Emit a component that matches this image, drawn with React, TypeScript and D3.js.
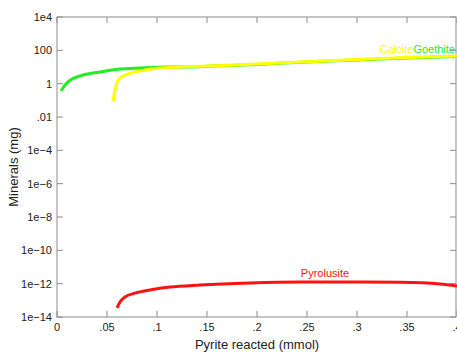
import React from "react";
import * as d3 from "d3";

// pyrite reacted (mmol) vs mineral mass (mg)
const goethiteX = [0.004, 0.008, 0.013, 0.023, 0.043, 0.063, 0.083, 0.103, 0.123, 0.15, 0.2, 0.25, 0.3, 0.35, 0.4];
const goethiteY = [0.36, 0.83, 1.6, 2.9, 5, 7.5, 8.7, 9.8, 10, 11, 14.3, 20, 26.6, 35, 43];

const calciteX = [0.056, 0.058, 0.061, 0.068, 0.083, 0.103, 0.123, 0.15, 0.2, 0.25, 0.3, 0.35, 0.4];
const calciteY = [0.09, 0.41, 1.6, 3.3, 5.7, 8.6, 10, 11.5, 15, 21, 28, 37, 45];

const pyrolusiteX = [0.06, 0.063, 0.068, 0.078, 0.093, 0.113, 0.143, 0.193, 0.243, 0.293, 0.343, 0.383, 0.4];
const pyrolusiteY = [3.5e-14, 8e-14, 1.6e-13, 2.7e-13, 4.2e-13, 6.3e-13, 8.3e-13, 1.1e-12, 1.26e-12, 1.26e-12, 1.2e-12, 9.6e-13, 7.3e-13];

const xTicks = [0, 0.05, 0.1, 0.15, 0.2, 0.25, 0.3, 0.35, 0.4];
const xTickLabels = ["0", ".05", ".1", ".15", ".2", ".25", ".3", ".35", ".4"];
const yTicks = [1e4, 1e2, 1, 1e-2, 1e-4, 1e-6, 1e-8, 1e-10, 1e-12, 1e-14];
const yTickLabels = ["1e4", "100", "1", ".01", "1e\u22124", "1e\u22126", "1e\u22128", "1e\u221210", "1e\u221212", "1e\u221214"];

const W = 457;
const H = 352;
const margin = { top: 17, right: 0, bottom: 35, left: 57 };
const font = "Liberation Sans, Arial, sans-serif";
const axisColor = "#8c8c8c";

export default function App() {
  const x = d3.scaleLinear().domain([0, 0.4]).range([margin.left, W - margin.right]);
  const y = d3.scaleLog().domain([1e-14, 1e4]).range([H - margin.bottom, margin.top]);

  const line = d3
    .line<[number, number]>()
    .x((d) => x(d[0]))
    .y((d) => y(d[1]))
    .curve(d3.curveMonotoneX);

  const zip = (xs: number[], ys: number[]) => xs.map((v, i) => [v, ys[i]] as [number, number]);

  const x0 = margin.left;
  const x1 = W - margin.right - 1;
  const y0 = H - margin.bottom;
  const y1 = margin.top;
  const tick = 6;

  return (
    <svg
      width={W}
      height={H}
      style={{ position: "absolute", left: 0, top: 0, background: "white" }}
      fontFamily={font}
    >
      {/* frame */}
      <rect x={x0} y={y1} width={x1 - x0} height={y0 - y1} fill="none" stroke={axisColor} strokeWidth={1} />

      {/* x ticks */}
      {xTicks.map((t, i) => (
        <g key={"x" + i}>
          <line x1={x(t)} x2={x(t)} y1={y0} y2={y0 - tick} stroke={axisColor} />
          <line x1={x(t)} x2={x(t)} y1={y1} y2={y1 + tick} stroke={axisColor} />
          <text x={x(t)} y={y0 + 14} fontSize={11} textAnchor="middle" fill="#222">
            {xTickLabels[i]}
          </text>
        </g>
      ))}

      {/* y ticks */}
      {yTicks.map((t, i) => (
        <g key={"y" + i}>
          <line x1={x0} x2={x0 + tick} y1={y(t)} y2={y(t)} stroke={axisColor} />
          <line x1={x1} x2={x1 - tick} y1={y(t)} y2={y(t)} stroke={axisColor} />
          <text x={x0 - 5} y={y(t) + 4} fontSize={11} textAnchor="end" fill="#222">
            {yTickLabels[i]}
          </text>
        </g>
      ))}

      {/* axis titles */}
      <text x={(x0 + W) / 2} y={H - 3} fontSize={13} textAnchor="middle" fill="#222">
        Pyrite reacted (mmol)
      </text>
      <text
        transform={`translate(18,${(y0 + y1) / 2}) rotate(-90)`}
        fontSize={13}
        textAnchor="middle"
        fill="#222"
      >
        Minerals (mg)
      </text>

      {/* series */}
      <path d={line(zip(goethiteX, goethiteY)) ?? ""} fill="none" stroke="#22ee22" strokeWidth={3} />
      <path d={line(zip(calciteX, calciteY)) ?? ""} fill="none" stroke="#ffff00" strokeWidth={3} />
      <path d={line(zip(pyrolusiteX, pyrolusiteY)) ?? ""} fill="none" stroke="#ff1111" strokeWidth={3} />

      {/* labels */}
      <text x={x(0.4) - 2} y={y(calciteY[calciteY.length - 1]) - 3} fontSize={11} textAnchor="end">
        <tspan fill="#ffff00">Calcite</tspan>
        <tspan fill="#22ee22">Goethite</tspan>
      </text>
      <text x={x(0.268)} y={y(1.26e-12) - 5} fontSize={11} textAnchor="middle" fill="#ff1111">
        Pyrolusite
      </text>
    </svg>
  );
}
